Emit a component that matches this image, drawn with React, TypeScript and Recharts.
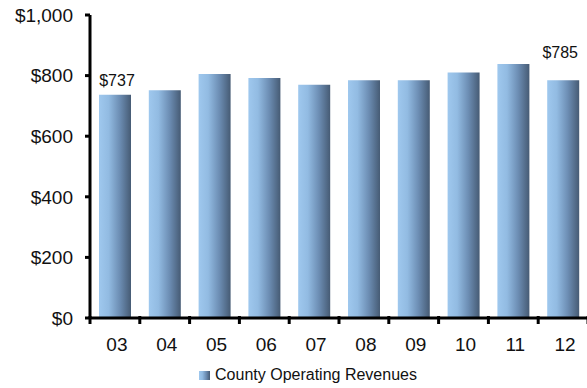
import { Bar, BarChart, LabelList, Legend, XAxis, YAxis } from "recharts";

// Fiscal years (two-digit) and county operating revenues, $ millions
const years = ["03", "04", "05", "06", "07", "08", "09", "10", "11", "12"];
const revenues = [737, 752, 805, 792, 770, 785, 785, 810, 838, 785];
const yTicks = [0, 200, 400, 600, 800, 1000];
const labeledYears = ["03", "12"];

const data = years.map((year, i) => ({ year, revenue: revenues[i] }));

const FONT = "'Liberation Sans', Arial, sans-serif";
const CHART_W = 600;
const CHART_H = 388;
const MARGIN = { top: 15, right: 12, bottom: 0, left: 0 };
const Y_AXIS_W = 90;
const BAND = (CHART_W - MARGIN.left - MARGIN.right - Y_AXIS_W) / years.length;

const money = (v: number) => "$" + v.toLocaleString("en-US");

// Excel-style x axis: tick marks sit between categories, labels centred in the band
function YearTick(props: any) {
	const { x, y, payload, index } = props;
	const left = x - BAND / 2;
	return (
		<g>
			<line x1={left} x2={left} y1={y - 2} y2={y + 6} stroke="#000" strokeWidth={3} />
			{index === years.length - 1 && (
				<line x1={left + BAND} x2={left + BAND} y1={y - 2} y2={y + 6} stroke="#000" strokeWidth={3} />
			)}
			<text x={x + 2} y={y + 33} textAnchor="middle" fontSize={19} fontFamily={FONT} fill="#111">
				{payload.value}
			</text>
		</g>
	);
}

// Value callouts only for the first and last year
function ValueLabel(props: any) {
	const { x, y, width, value, index } = props;
	const year = years[index];
	if (!labeledYears.includes(year)) return null;
	const last = index === years.length - 1;
	return (
		<text
			x={x + width / 2 + (last ? -3 : 2)}
			y={y - (last ? 22 : 9)}
			textAnchor="middle"
			fontSize={16}
			fontFamily={FONT}
			fill="#111"
		>
			{money(value)}
		</text>
	);
}

function LegendContent() {
	return (
		<div style={{ display: "flex", justifyContent: "center", alignItems: "center", fontFamily: FONT, fontSize: 16, color: "#111", paddingLeft: 28, paddingTop: 8 }}>
			<svg width={11} height={9} style={{ marginRight: 5 }}>
				<rect width={11} height={9} fill="url(#barFill)" />
			</svg>
			<span>County Operating Revenues</span>
		</div>
	);
}

export default function App() {
	return (
		<div style={{ position: "absolute", left: 0, top: 0, width: 587, height: CHART_H, overflow: "hidden", background: "#fff" }}>
			<BarChart width={CHART_W} height={CHART_H} data={data} margin={MARGIN}>
				<defs>
					<linearGradient id="barFill" x1="0" y1="0" x2="1" y2="0">
						<stop offset="0%" stopColor="#9fc8ee" />
						<stop offset="30%" stopColor="#92bbe2" />
						<stop offset="65%" stopColor="#6c8db3" />
						<stop offset="100%" stopColor="#465b74" />
					</linearGradient>
				</defs>
				<XAxis
					dataKey="year"
					height={40}
					tickLine={false}
					tickSize={0}
					tickMargin={0}
					axisLine={{ stroke: "#000", strokeWidth: 3 }}
					tick={<YearTick />}
					interval={0}
				/>
				<YAxis
					width={Y_AXIS_W}
					domain={[0, 1000]}
					ticks={yTicks}
					tickFormatter={money}
					tickSize={5}
					tickMargin={12}
					tickLine={{ stroke: "#000", strokeWidth: 3 }}
					axisLine={{ stroke: "#000", strokeWidth: 3 }}
					tick={{ fontSize: 19, fontFamily: FONT, fill: "#111" }}
				/>
				<Legend verticalAlign="bottom" height={30} content={<LegendContent />} />
				<Bar dataKey="revenue" fill="url(#barFill)" barSize={32} isAnimationActive={false}>
					<LabelList dataKey="revenue" content={<ValueLabel />} />
				</Bar>
			</BarChart>
		</div>
	);
}
